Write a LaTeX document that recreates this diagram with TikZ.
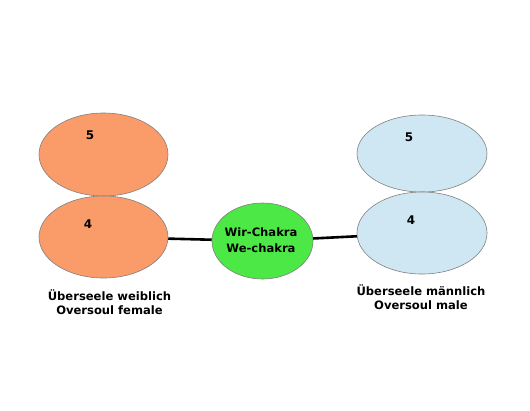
\documentclass[tikz,border=0pt]{standalone}
\usepackage{fontspec}
\setmainfont{DejaVu Sans}
\usetikzlibrary{shapes.geometric}
\definecolor{fem}{RGB}{250,155,106}
\definecolor{mal}{RGB}{207,230,243}
\definecolor{wir}{RGB}{76,232,70}
\definecolor{rim}{RGB}{128,128,128}
\tikzset{
  soul/.style={ellipse, draw=rim, line width=0.6bp, inner sep=0pt},
  num/.style={font=\bfseries\fontsize{12}{13}\selectfont, inner sep=0pt},
  captxt/.style={font=\bfseries\fontsize{11.6}{14}\selectfont, align=center, inner sep=0pt},
  wirtxt/.style={font=\bfseries\fontsize{11.6}{16}\selectfont, align=center, inner sep=0pt},
  link/.style={line width=2.6bp, black}
}
\begin{document}
\begin{tikzpicture}[x=1bp,y=-1bp]
\useasboundingbox (0,0) rectangle (530,410);
\node[soul, fill=fem, minimum width=129bp, minimum height=83bp] (lf5) at (103.5,154.5) {};
\node[soul, fill=fem, minimum width=129bp, minimum height=82bp] (lf4) at (103.5,237) {};
\node[soul, fill=mal, minimum width=130bp, minimum height=77bp] (rm5) at (422,153.5) {};
\node[soul, fill=mal, minimum width=130bp, minimum height=82bp] (rm4) at (422,233) {};
\node[soul, fill=wir, minimum width=101bp, minimum height=76bp] (wc) at (262.5,241) {};
\draw[link] (lf4) -- (wc);
\draw[link] (wc) -- (rm4);
\node[num] (n5l) at (90,135) {5};
\node[num] (n4l) at (88,224) {4};
\node[num] (n5r) at (409,137) {5};
\node[num] (n4r) at (411,220) {4};
\node[wirtxt] (wct) at (261,240) {Wir-Chakra\\We-chakra};
\node[captxt] (capl) at (109.5,302.5) {Überseele weiblich\\Oversoul female};
\node[captxt] (capr) at (421,297.5) {Überseele männlich\\Oversoul male};
\end{tikzpicture}
\end{document}
